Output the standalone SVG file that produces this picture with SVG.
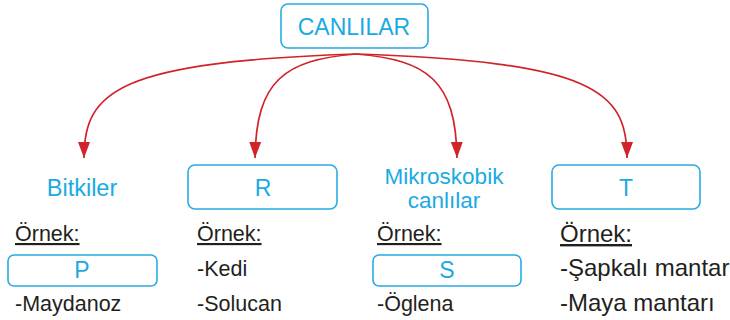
<svg xmlns="http://www.w3.org/2000/svg" width="730" height="320" viewBox="0 0 730 320">
<style>
.box{fill:#fff;stroke:#29abe2;stroke-width:1.6}
.bl{font-family:"Liberation Sans",Arial,sans-serif;fill:#1aaae3;text-anchor:middle}
.tx{font-family:"Liberation Sans",Arial,sans-serif;fill:#231f20;font-size:21.5px}
.tx4{font-family:"Liberation Sans",Arial,sans-serif;fill:#231f20;font-size:24px}
.ul{text-decoration:underline}
.arr{fill:none;stroke:#d1232a;stroke-width:1.7;marker-end:url(#ah)}
</style>
<defs>
<marker id="ah" markerUnits="userSpaceOnUse" markerWidth="17" markerHeight="13" refX="16" refY="6" orient="auto">
<path d="M0,0 L16,6 L0,12 z" fill="#d1232a"/>
</marker>
</defs>
<g id="connectors">
<path class="arr" d="M356,54 C120,62 84,90 84,158"/>
<path class="arr" d="M356,54 C285,60 256,80 255,158"/>
<path class="arr" d="M356,54 C427,60 456,80 457,158"/>
<path class="arr" d="M356,54 C592,62 627,90 627,158"/>
</g>
<g id="canlilar">
<rect class="box" x="281" y="4" width="147" height="44" rx="7"/>
<text class="bl" x="354" y="35" font-size="23">CANLILAR</text>
</g>
<g id="bitkiler">
<text class="bl" x="82" y="196" font-size="23.5">Bitkiler</text>
<text class="tx ul" x="15" y="241">Örnek:</text>
<rect class="box" x="8" y="255" width="149" height="31" rx="6"/>
<text class="bl" x="82" y="278" font-size="23">P</text>
<text class="tx" x="15" y="311">-Maydanoz</text>
</g>
<g id="r">
<rect class="box" x="188" y="165" width="149" height="44" rx="7"/>
<text class="bl" x="263" y="196" font-size="23">R</text>
<text class="tx ul" x="197" y="241">Örnek:</text>
<text class="tx" x="197" y="276">-Kedi</text>
<text class="tx" x="197" y="311">-Solucan</text>
</g>
<g id="mikroskobik">
<text class="bl" x="444" y="184" font-size="22.5">Mikroskobik</text>
<text class="bl" x="444" y="208" font-size="22.5">canlılar</text>
<text class="tx ul" x="377" y="241">Örnek:</text>
<rect class="box" x="373" y="255" width="148" height="31" rx="6"/>
<text class="bl" x="447" y="278" font-size="23">S</text>
<text class="tx" x="377" y="311">-Öglena</text>
</g>
<g id="t">
<rect class="box" x="552" y="165" width="148" height="44" rx="7"/>
<text class="bl" x="626" y="196" font-size="23">T</text>
<text class="tx4 ul" x="560" y="242">Örnek:</text>
<text class="tx4" x="560" y="276">-Şapkalı mantar</text>
<text class="tx4" x="560" y="311">-Maya mantarı</text>
</g>
</svg>
